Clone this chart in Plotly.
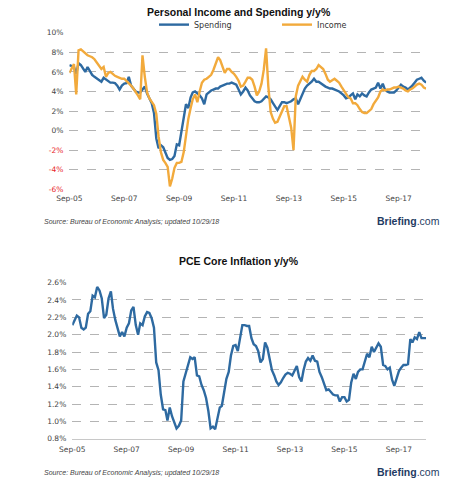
import pandas as pd
import plotly.graph_objects as go

# monthly, Sep-2005 .. Sep-2018
months = pd.date_range("2005-09-01", "2018-09-01", freq="MS")

spending = [
    6.7, 6.6, 6.5, 5.8, 6.9, 6.7, 6.4, 6.0, 6.5, 6.1, 5.7, 5.5,
    5.3, 5.1, 5.0, 5.4, 5.2, 5.0, 4.9, 4.9, 4.85, 4.6, 4.2, 4.6,
    4.8, 4.85, 5.5, 4.6, 4.3, 4.0, 3.9, 3.9, 4.2, 4.5, 3.8, 3.3,
    2.8, 1.8, -0.8, -1.8, -1.5, -1.7, -2.3, -2.8, -3.0, -2.9, -2.6, -1.4,
    -1.5, -0.2, 1.5, 2.7, 2.3, 3.4, 3.9, 4.0, 3.8, 3.6, 3.3, 2.7,
    3.7, 3.9, 4.1, 4.2, 4.3, 4.3, 4.5, 4.6, 4.7, 4.8, 4.8, 4.9,
    4.8, 4.7, 4.2, 3.7, 4.0, 4.4, 4.1, 3.6, 3.3, 3.0, 2.9, 2.9,
    3.0, 3.2, 3.5, 3.4, 3.2, 2.8, 2.4, 2.1, 2.5, 2.9, 2.9, 2.8,
    2.9, 3.0, 3.2, 3.3, 2.7, 3.2, 3.8, 4.3, 4.6, 4.8, 5.0, 5.3,
    5.0, 5.0, 4.8, 4.6, 4.5, 4.4, 4.3, 4.3, 4.2, 4.1, 4.0, 3.8,
    3.6, 3.3, 3.4, 3.6, 3.8, 3.2, 3.7, 3.5, 3.8, 3.6, 3.5, 3.9,
    4.2, 4.3, 4.4, 4.9, 4.3, 4.8, 4.2, 4.0, 3.9, 3.9, 3.9, 4.1,
    4.4, 4.7, 4.5, 4.4, 4.2, 4.4, 4.6, 4.9, 5.2, 5.3, 5.4, 5.1,
    4.9,
]

income = [
    5.9, 6.3, 6.8, 3.7, 8.2, 8.3, 8.1, 7.9, 7.7, 7.6, 7.5, 7.3,
    7.0, 6.7, 6.3, 6.5, 5.5, 5.9, 6.0, 5.8, 5.6, 5.5, 5.4, 5.3,
    5.3, 5.1, 4.9, 4.6, 4.3, 4.0, 3.6, 3.2, 7.7, 5.5, 3.9, 3.3,
    2.9, 2.6, 1.7, -0.6, -2.2, -3.0, -3.3, -3.7, -5.7, -4.9, -3.8, -3.3,
    -3.3, -3.2, -2.2, -0.4, 1.2, 2.3, 3.2, 3.7, 2.9, 4.0, 4.9, 5.2,
    5.3, 5.5, 5.7, 6.2, 6.8, 7.5, 7.2, 6.6, 5.9, 6.3, 6.3, 6.0,
    5.8, 5.5, 5.1, 4.5, 4.6, 5.0, 5.4, 5.4, 5.2, 4.5, 3.6, 4.0,
    4.8, 6.2, 8.4, 4.5, 1.9, 1.2, 0.8, 0.9, 1.4, 1.9, 2.5, 2.5,
    1.5, 0.3, -2.0, 3.5, 4.6, 5.1, 5.5, 5.2, 5.0, 5.7, 6.1, 6.1,
    6.3, 6.7, 6.5, 6.3, 5.8, 5.2, 5.0, 5.2, 5.3, 5.1, 4.9, 4.5,
    4.1, 3.8, 3.4, 3.3, 2.8, 2.8, 2.6, 2.2, 1.9, 1.8, 1.8, 2.0,
    2.2, 2.7, 3.1, 3.4, 4.0, 4.2, 4.1, 4.2, 4.2, 4.3, 4.4, 4.4,
    4.5, 4.4, 4.3, 4.1, 4.0, 4.2, 4.3, 4.5, 4.7, 4.8, 4.7, 4.4,
    4.3,
]

pce_core = [
    2.11, 2.17, 2.22, 2.20, 2.08, 2.06, 2.08, 2.24, 2.27, 2.45, 2.43, 2.55,
    2.51, 2.42, 2.19, 2.23, 2.42, 2.50, 2.30, 2.17, 2.06, 1.98, 2.03, 1.98,
    2.08, 2.13, 2.28, 2.32, 2.11, 2.00, 2.13, 2.11, 2.21, 2.26, 2.25, 2.19,
    2.08, 1.68, 1.59, 1.31, 1.14, 1.13, 1.01, 1.16, 1.06, 0.99, 0.92, 0.95,
    1.01, 1.46, 1.55, 1.63, 1.74, 1.72, 1.74, 1.53, 1.52, 1.42, 1.36, 1.27,
    1.12, 0.92, 0.94, 0.91, 1.04, 1.16, 1.18, 1.34, 1.49, 1.57, 1.76, 1.87,
    1.88, 1.81, 1.98, 2.11, 2.11, 2.10, 2.10, 1.96, 1.89, 1.87, 1.81, 1.68,
    1.72, 1.91, 1.85, 1.72, 1.59, 1.53, 1.46, 1.42, 1.45, 1.50, 1.54, 1.56,
    1.55, 1.53, 1.59, 1.64, 1.51, 1.46, 1.59, 1.69, 1.73, 1.70, 1.76, 1.70,
    1.69, 1.57, 1.51, 1.44, 1.36, 1.37, 1.34, 1.31, 1.30, 1.30, 1.23, 1.28,
    1.28, 1.23, 1.25, 1.45, 1.55, 1.49, 1.57, 1.60, 1.60, 1.68, 1.78, 1.74,
    1.86, 1.80, 1.85, 1.90, 1.86, 1.65, 1.64, 1.60, 1.62, 1.48, 1.41, 1.49,
    1.58, 1.62, 1.65, 1.65, 1.66, 1.95, 1.91, 1.97, 1.95, 2.03, 1.96, 1.96,
    1.96,
]

tick_dates = ["2005-09-01", "2007-09-01", "2009-09-01", "2011-09-01",
              "2013-09-01", "2015-09-01", "2017-09-01"]
tick_labels = ["Sep-05", "Sep-07", "Sep-09", "Sep-11", "Sep-13", "Sep-15", "Sep-17"]

top_ticks = [-6, -4, -2, 0, 2, 4, 6, 8, 10]
top_labels = [f"<span style='color:#e8262b'>{v}%</span>" if v < 0 else f"{v}%" for v in top_ticks]
pce_ticks = [0.8, 1.0, 1.2, 1.4, 1.6, 1.8, 2.0, 2.2, 2.4, 2.6]
pce_labels = [f"{v:.1f}%" for v in pce_ticks]

BLUE = "#2e6aa1"
ORANGE = "#f2aa3c"
GRID = "#b4b4b4"
TICK_FONT = dict(family="DejaVu Sans", size=7.5, color="#444444")

W, H = 465, 502

fig = go.Figure()

fig.add_trace(go.Scatter(x=months, y=spending, name="Spending", mode="lines",
                         line=dict(color=BLUE, width=2.4), xaxis="x", yaxis="y"))
fig.add_trace(go.Scatter(x=months, y=income, name="Income", mode="lines",
                         line=dict(color=ORANGE, width=2.4), xaxis="x", yaxis="y"))
fig.add_trace(go.Scatter(x=months, y=pce_core, name="PCE Core", mode="lines",
                         line=dict(color=BLUE, width=2.4), xaxis="x2", yaxis="y2",
                         showlegend=False))

xcommon = dict(type="date", range=["2005-09-01", "2018-09-01"], tickvals=tick_dates,
               ticktext=tick_labels, showgrid=False, zeroline=False, ticks="",
               tickfont=TICK_FONT, ticklabelstandoff=3)
ycommon = dict(showgrid=True, gridcolor=GRID, griddash="dash", gridwidth=1,
               zeroline=False, ticks="", tickfont=TICK_FONT, ticklabelstandoff=5)

fig.update_layout(
    width=W, height=H,
    margin=dict(l=0, r=0, t=0, b=0),
    paper_bgcolor="white", plot_bgcolor="white",
    xaxis=dict(domain=[58 / W, 425 / W], anchor="y", showline=False, **xcommon),
    yaxis=dict(domain=[1 - 188.7 / H, 1 - 29.3 / H], anchor="x", range=[-6, 10],
               tickvals=top_ticks, ticktext=top_labels, **ycommon),
    xaxis2=dict(domain=[61 / W, 425 / W], anchor="y2", showline=True,
                linecolor="#c8c8c8", linewidth=1, **xcommon),
    yaxis2=dict(domain=[1 - 442.7 / H, 1 - 283.7 / H], anchor="x2", range=[0.8, 2.6],
                tickvals=pce_ticks, ticktext=pce_labels, **ycommon),
    showlegend=True,
    legend=dict(orientation="h", x=0.312, xanchor="left", y=1 - 21 / H, yanchor="middle",
                font=dict(family="DejaVu Sans", size=8, color="#333333"),
                itemwidth=30, entrywidth=78, entrywidthmode="pixels",
                bgcolor="rgba(0,0,0,0)", tracegroupgap=0),
)

title_font = dict(family="Liberation Sans", size=10.5, color="#111111")
src_font = dict(family="Liberation Sans", size=7, color="#444444")
logo_font = dict(family="Liberation Sans", size=10.5, color="#1f3b63")
src_text = "<i>Source: Bureau of Economic Analysis; updated 10/29/18</i>"

for ty, title, sy in [(8, "Personal Income and Spending y/y%", 222),
                      (262, "PCE Core Inflation y/y%", 478)]:
    fig.add_annotation(x=0.5, y=1 - ty / H, xref="paper", yref="paper",
                       text=f"<b>{title}</b>", showarrow=False, font=title_font,
                       xanchor="center", yanchor="middle")
    fig.add_annotation(x=30 / W, y=1 - sy / H, xref="paper", yref="paper",
                       text=src_text, showarrow=False, font=src_font,
                       xanchor="left", yanchor="middle")
    fig.add_annotation(x=441 / W, y=1 - (sy - 1) / H, xref="paper", yref="paper",
                       text="<b>Briefing</b>.com", showarrow=False, font=logo_font,
                       xanchor="right", yanchor="middle")

# page body has a default margin; drop it so the figure sits at the window corner
fig.write_html("out.html", config={"displayModeBar": False},
               post_script="document.body.style.margin='0';")
